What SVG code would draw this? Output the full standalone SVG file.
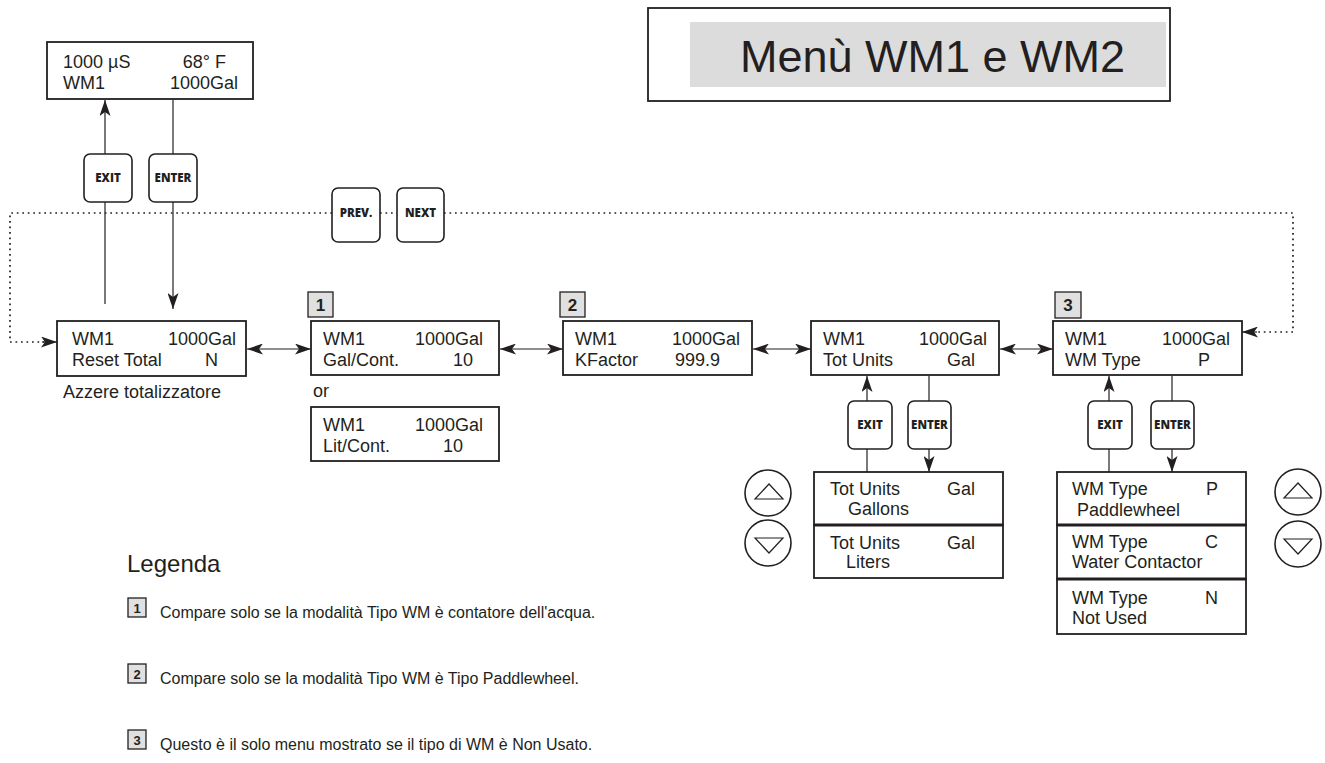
<svg xmlns="http://www.w3.org/2000/svg" width="1325" height="763" viewBox="0 0 1325 763">
<style>
.box{fill:#fff;stroke:#231f20;stroke-width:1.8}
.t{font-family:"Liberation Sans",Arial,sans-serif;font-size:18px;fill:#231f20}
.e{text-anchor:end}
.btn{fill:#fff;stroke:#231f20;stroke-width:1.6}
.bt{font-family:"Open Sans","DejaVu Sans",sans-serif;font-weight:800;font-size:11.5px;fill:#231f20;text-anchor:middle}
.badge{fill:#e0e0e0;stroke:#231f20;stroke-width:1.3}
.bn{font-family:"Liberation Sans",Arial,sans-serif;font-weight:bold;font-size:17px;fill:#231f20;text-anchor:middle}
.bs{font-family:"Liberation Sans",Arial,sans-serif;font-weight:bold;font-size:13px;fill:#231f20;text-anchor:middle}
.ln{stroke:#231f20;stroke-width:1.2;fill:none}
.dot{stroke:#231f20;stroke-width:1.7;fill:none;stroke-dasharray:1.7 3.8}
.lg{font-family:"Liberation Sans",Arial,sans-serif;font-size:16px;fill:#231f20}
.circ{fill:#fff;stroke:#231f20;stroke-width:1.6}
</style>
<defs>
<marker id="ah" viewBox="0 0 16 11" refX="16" refY="5.5" markerWidth="16" markerHeight="11" markerUnits="userSpaceOnUse" orient="auto-start-reverse">
<path d="M0,0 L16,5.5 L0,11 L4,5.5 z" fill="#231f20" stroke="none"/>
</marker>
</defs>

<g id="title">
<rect x="648" y="8" width="522" height="93" class="box"/>
<rect x="690" y="22" width="476" height="65" fill="#dcdcdc"/>
<text x="740" y="72" font-family="Liberation Sans, Arial, sans-serif" font-size="45" fill="#231f20">Menù WM1 e WM2</text>
</g>

<g id="connectors">
<path class="dot" d="M332,213 H10 V342 H44"/>
<path class="dot" d="M380,213 H397"/>
<path class="dot" d="M444,213 H1293 V332 H1255"/>
<path class="ln" d="M42,342 H57" marker-end="url(#ah)"/>
<path class="ln" d="M1257,332 H1242" marker-end="url(#ah)"/>
<path class="ln" d="M105,154 V100" marker-end="url(#ah)"/>
<path class="ln" d="M105,202 V304"/>
<path class="ln" d="M173,100 V154"/>
<path class="ln" d="M173,202 V309" marker-end="url(#ah)"/>
<path class="ln" d="M247,349 H311" marker-start="url(#ah)" marker-end="url(#ah)"/>
<path class="ln" d="M500,349 H563" marker-start="url(#ah)" marker-end="url(#ah)"/>
<path class="ln" d="M753,349 H811" marker-start="url(#ah)" marker-end="url(#ah)"/>
<path class="ln" d="M1000,349 H1053" marker-start="url(#ah)" marker-end="url(#ah)"/>
<path class="ln" d="M867,401 V376" marker-end="url(#ah)"/>
<path class="ln" d="M929,376 V401"/>
<path class="ln" d="M867,449 V472"/>
<path class="ln" d="M929,449 V472" marker-end="url(#ah)"/>
<path class="ln" d="M1109,401 V376" marker-end="url(#ah)"/>
<path class="ln" d="M1172,376 V401"/>
<path class="ln" d="M1109,449 V472"/>
<path class="ln" d="M1172,449 V472" marker-end="url(#ah)"/>
</g>

<g id="home">
<rect x="47" y="42" width="206" height="57" class="box"/>
<text x="63" y="68" class="t">1000 µS</text><text x="226" y="68" class="t e">68° F</text>
<text x="63" y="89" class="t">WM1</text><text x="238" y="89" class="t e">1000Gal</text>
</g>

<g id="btn-exit-top"><rect x="84" y="154" width="48" height="48" rx="6" class="btn"/><text x="108" y="182" class="bt">EXIT</text></g>
<g id="btn-enter-top"><rect x="149" y="154" width="48" height="48" rx="6" class="btn"/><text x="173" y="182" class="bt">ENTER</text></g>
<g id="btn-prev"><rect x="332" y="188" width="48" height="54" rx="6" class="btn"/><text x="356" y="217" class="bt">PREV.</text></g>
<g id="btn-next"><rect x="397" y="188" width="47" height="54" rx="6" class="btn"/><text x="420.5" y="217" class="bt">NEXT</text></g>

<g id="reset">
<rect x="57" y="321" width="189" height="55" class="box"/>
<text x="72" y="345" class="t">WM1</text><text x="236" y="345" class="t e">1000Gal</text>
<text x="72" y="366" class="t">Reset Total</text><text x="218" y="366" class="t e">N</text>
<text x="63" y="398" class="t">Azzere totalizzatore</text>
</g>

<g id="galcont">
<rect x="308" y="292" width="25" height="25" class="badge"/><text x="320.5" y="311" class="bn">1</text>
<rect x="311" y="321" width="188" height="54" class="box"/>
<text x="323" y="345" class="t">WM1</text><text x="483" y="345" class="t e">1000Gal</text>
<text x="323" y="366" class="t">Gal/Cont.</text><text x="473" y="366" class="t e">10</text>
<text x="313" y="397" class="t">or</text>
</g>

<g id="litcont">
<rect x="311" y="407" width="188" height="54" class="box"/>
<text x="323" y="431" class="t">WM1</text><text x="483" y="431" class="t e">1000Gal</text>
<text x="323" y="452" class="t">Lit/Cont.</text><text x="463" y="452" class="t e">10</text>
</g>

<g id="kfactor">
<rect x="560" y="292" width="25" height="25" class="badge"/><text x="572.5" y="311" class="bn">2</text>
<rect x="563" y="321" width="189" height="54" class="box"/>
<text x="575" y="345" class="t">WM1</text><text x="740" y="345" class="t e">1000Gal</text>
<text x="575" y="366" class="t">KFactor</text><text x="720" y="366" class="t e">999.9</text>
</g>

<g id="totunits">
<rect x="811" y="321" width="188" height="54" class="box"/>
<text x="823" y="345" class="t">WM1</text><text x="987" y="345" class="t e">1000Gal</text>
<text x="823" y="366" class="t">Tot Units</text><text x="975" y="366" class="t e">Gal</text>
</g>

<g id="wmtype">
<rect x="1055" y="292" width="26" height="26" class="badge"/><text x="1068" y="311" class="bn">3</text>
<rect x="1053" y="321" width="189" height="54" class="box"/>
<text x="1065" y="345" class="t">WM1</text><text x="1230" y="345" class="t e">1000Gal</text>
<text x="1065" y="366" class="t">WM Type</text><text x="1210" y="366" class="t e">P</text>
</g>

<g id="btn-exit-3"><rect x="848" y="401" width="44" height="48" rx="6" class="btn"/><text x="870" y="429" class="bt">EXIT</text></g>
<g id="btn-enter-3"><rect x="908" y="401" width="43" height="48" rx="6" class="btn"/><text x="929.5" y="429" class="bt">ENTER</text></g>
<g id="btn-exit-4"><rect x="1088" y="401" width="44" height="48" rx="6" class="btn"/><text x="1110" y="429" class="bt">EXIT</text></g>
<g id="btn-enter-4"><rect x="1151" y="401" width="43" height="48" rx="6" class="btn"/><text x="1172.5" y="429" class="bt">ENTER</text></g>

<g id="units-list">
<rect x="814" y="472" width="189" height="53" class="box"/>
<rect x="814" y="525" width="189" height="53" class="box"/>
<line x1="814" y1="525" x2="1003" y2="525" stroke="#231f20" stroke-width="3"/>
<text x="830" y="495" class="t">Tot Units</text><text x="975" y="495" class="t e">Gal</text>
<text x="848" y="515" class="t">Gallons</text>
<text x="830" y="549" class="t">Tot Units</text><text x="975" y="549" class="t e">Gal</text>
<text x="846" y="568" class="t">Liters</text>
</g>

<g id="type-list">
<rect x="1057" y="472" width="189" height="53" class="box"/>
<rect x="1057" y="525" width="189" height="54" class="box"/>
<rect x="1057" y="579" width="189" height="55" class="box"/>
<line x1="1057" y1="525" x2="1246" y2="525" stroke="#231f20" stroke-width="3"/>
<line x1="1057" y1="579" x2="1246" y2="579" stroke="#231f20" stroke-width="3"/>
<text x="1072" y="495" class="t">WM Type</text><text x="1218" y="495" class="t e">P</text>
<text x="1077" y="516" class="t">Paddlewheel</text>
<text x="1072" y="548" class="t">WM Type</text><text x="1218" y="548" class="t e">C</text>
<text x="1072" y="568" class="t">Water Contactor</text>
<text x="1072" y="604" class="t">WM Type</text><text x="1218" y="604" class="t e">N</text>
<text x="1072" y="624" class="t">Not Used</text>
</g>

<g id="updown-left">
<circle cx="768" cy="493" r="23" class="circ"/>
<path d="M755,499 L769,484 L783,499 Z" class="ln" stroke-width="1.5"/>
<circle cx="768" cy="543" r="23" class="circ"/>
<path d="M755,538 L769,553 L783,538 Z" class="ln" stroke-width="1.5"/>
</g>
<g id="updown-right">
<circle cx="1298" cy="492" r="23" class="circ"/>
<path d="M1284,498 L1298,483 L1312,498 Z" class="ln" stroke-width="1.5"/>
<circle cx="1298" cy="544" r="23" class="circ"/>
<path d="M1284,539 L1298,554 L1312,539 Z" class="ln" stroke-width="1.5"/>
</g>

<g id="legend">
<text x="127" y="572" font-family="Liberation Sans, Arial, sans-serif" font-size="24" fill="#231f20">Legenda</text>
<rect x="128" y="598" width="18" height="19" class="badge"/><text x="137" y="613" class="bs">1</text>
<text x="160" y="618" class="lg">Compare solo se la modalità Tipo WM è contatore dell'acqua.</text>
<rect x="128" y="664" width="18" height="19" class="badge"/><text x="137" y="679" class="bs">2</text>
<text x="160" y="684" class="lg">Compare solo se la modalità Tipo WM è Tipo Paddlewheel.</text>
<rect x="128" y="730" width="18" height="19" class="badge"/><text x="137" y="745" class="bs">3</text>
<text x="160" y="750" class="lg">Questo è il solo menu mostrato se il tipo di WM è Non Usato.</text>
</g>
</svg>
